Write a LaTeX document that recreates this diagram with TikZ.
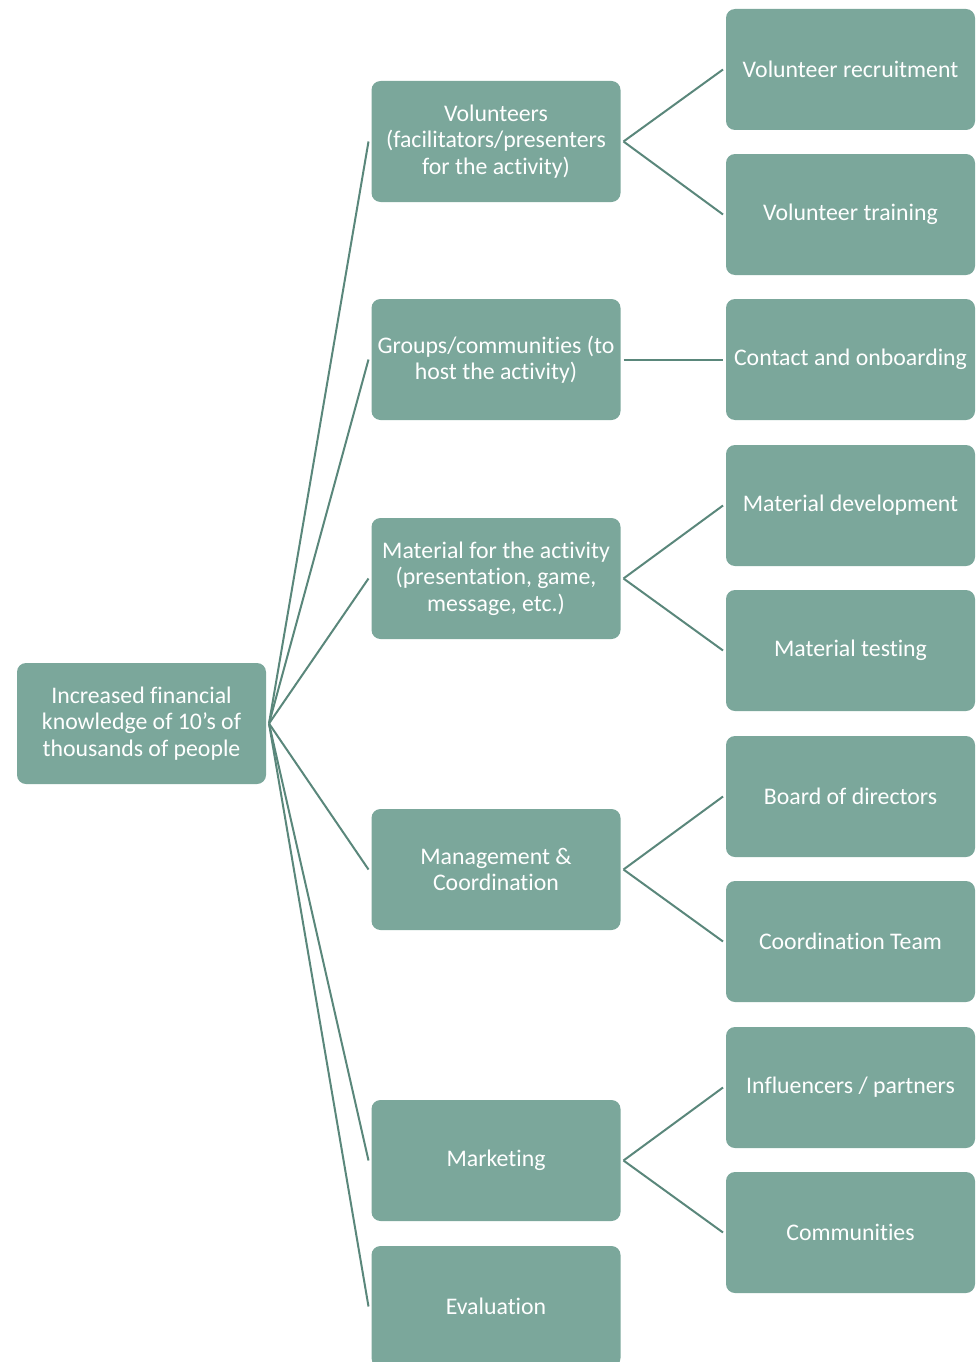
\documentclass[tikz,border=0pt]{standalone}
\usepackage{fontspec}
\setmainfont{Carlito}[Ligatures={NoCommon}]
\definecolor{boxfill}{RGB}{123,167,155}
\definecolor{linecol}{RGB}{90,135,123}
\begin{document}
\begin{tikzpicture}[x=1pt,y=-1pt,
  box/.style={fill=boxfill, rounded corners=9pt, minimum width=249pt, minimum height=121pt,
    inner sep=0pt, outer sep=3pt, align=center, text=white,
    font=\fontsize{23.8}{26.5}\selectfont},
  link/.style={draw=linecol, line width=2pt}]
\useasboundingbox (0,0) rectangle (976,1362);
% root
\node[box] (root) at (141.5,723.5) {Increased financial\\knowledge of 10’s of\\thousands of people};
% middle column
\node[box] (vol) at (496,141.5) {Volunteers\\(facilitators/presenters\\for the activity)};
\node[box] (grp) at (496,359.5) {Groups/communities (to\\host the activity)};
\node[box] (mat) at (496,578.5) {Material for the activity\\(presentation, game,\\message, etc.)};
\node[box] (mgt) at (496,869.5) {Management \&\\Coordination};
\node[box] (mkt) at (496,1160.5) {Marketing};
\node[box] (eva) at (496,1306.5) {Evaluation};
% right column
\node[box] (vrec) at (850.5,69.5) {Volunteer recruitment};
\node[box] (vtr) at (850.5,214.5) {Volunteer training};
\node[box] (con) at (850.5,359.5) {Contact and onboarding};
\node[box] (mdev) at (850.5,505.5) {Material development};
\node[box] (mtst) at (850.5,650.5) {Material testing};
\node[box] (brd) at (850.5,796.5) {Board of directors};
\node[box] (ctm) at (850.5,941.5) {Coordination Team};
\node[box] (inf) at (850.5,1087.5) {Influencers / partners};
\node[box] (com) at (850.5,1232.5) {Communities};
% connectors
\foreach \m in {vol,grp,mat,mgt,mkt,eva}
  \draw[link] (root.east) -- (\m.west);
\draw[link] (vol.east) -- (vrec.west);
\draw[link] (vol.east) -- (vtr.west);
\draw[link] (grp.east) -- (con.west);
\draw[link] (mat.east) -- (mdev.west);
\draw[link] (mat.east) -- (mtst.west);
\draw[link] (mgt.east) -- (brd.west);
\draw[link] (mgt.east) -- (ctm.west);
\draw[link] (mkt.east) -- (inf.west);
\draw[link] (mkt.east) -- (com.west);
\end{tikzpicture}
\end{document}
